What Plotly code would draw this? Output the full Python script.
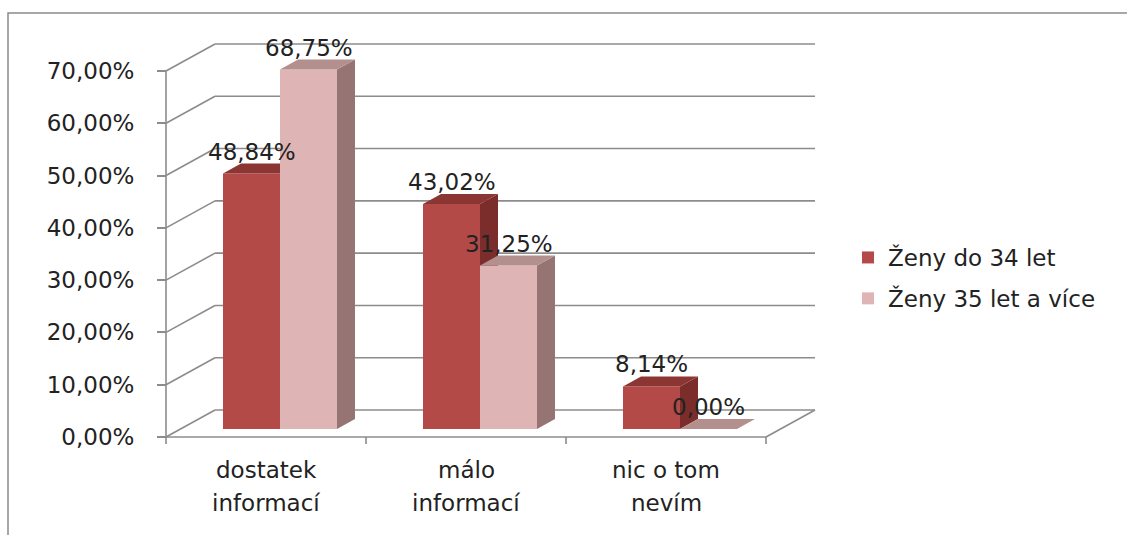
import plotly.graph_objects as go

# ---- data -------------------------------------------------------------
categories = ["dostatek informací", "málo informací", "nic o tom nevím"]
category_lines = [["dostatek", "informací"], ["málo", "informací"], ["nic o tom", "nevím"]]
series_names = ["Ženy do 34 let", "Ženy 35 let a více"]
young_values = [48.84, 43.02, 8.14]
older_values = [68.75, 31.25, 0.00]
tick_values = [0, 10, 20, 30, 40, 50, 60, 70]
tick_labels = ["0,00%", "10,00%", "20,00%", "30,00%", "40,00%", "50,00%", "60,00%", "70,00%"]

# ---- styling / pseudo-3D geometry (axis units) ------------------------
FONT = "DejaVu Sans"
FONT_SIZE = 23
TEXT_COLOR = "#222222"
GRID_COLOR = "#8c8c8c"
front_colors = ["#B34A48", "#DEB5B4"]
top_colors = ["#8C3634", "#B38F8D"]
side_colors = ["#7B2D2B", "#957473"]

X_RANGE = [-1.33, 4.305]
Y_RANGE = [-18.74, 83.57]
WALL_DX, WALL_DY = 0.245, 5.16     # depth of the chart walls
BAR_W = 0.285                      # width of one column
BAR_FX, BAR_FY = 0.07, 1.53        # columns sit a little behind the front plane
BAR_DX, BAR_DY = 0.09, 1.91        # depth of a column
X_LEFT, X_RIGHT = -0.5, len(categories) - 0.5

fig = go.Figure()

series = [young_values, older_values]
yaxes = ["y", "y2"]
for j, values in enumerate(series):
    centers = [i + (j - 0.5) * BAR_W + BAR_FX for i in range(len(categories))]
    fig.add_trace(go.Bar(
        x=centers, y=values, base=BAR_FY, width=BAR_W,
        name=series_names[j], legendgroup=f"s{j}",
        marker=dict(color=front_colors[j], line=dict(width=0)),
        xaxis="x", yaxis=yaxes[j], hoverinfo="skip",
    ))
    for c, v in zip(centers, values):
        left, right = c - BAR_W / 2, c + BAR_W / 2
        top = BAR_FY + v
        # right side face
        fig.add_trace(go.Scatter(
            x=[right, right + BAR_DX, right + BAR_DX, right, right],
            y=[BAR_FY, BAR_FY + BAR_DY, top + BAR_DY, top, BAR_FY],
            fill="toself", fillcolor=side_colors[j], mode="lines",
            line=dict(width=0), showlegend=False, hoverinfo="skip",
            xaxis="x", yaxis=yaxes[j],
        ))
        # top face
        fig.add_trace(go.Scatter(
            x=[left, right, right + BAR_DX, left + BAR_DX, left],
            y=[top, top, top + BAR_DY, top + BAR_DY, top],
            fill="toself", fillcolor=top_colors[j], mode="lines",
            line=dict(width=0), showlegend=False, hoverinfo="skip",
            xaxis="x", yaxis=yaxes[j],
        ))

# ---- walls, floor and axis lines --------------------------------------
shapes = []
line_style = dict(color=GRID_COLOR, width=1.6)
for t in tick_values:
    shapes.append(dict(type="line", xref="x", yref="y", layer="below",
                       x0=X_LEFT, y0=t, x1=X_LEFT + WALL_DX, y1=t + WALL_DY, line=line_style))
    shapes.append(dict(type="line", xref="x", yref="y", layer="below",
                       x0=X_LEFT + WALL_DX, y0=t + WALL_DY, x1=X_RIGHT + WALL_DX, y1=t + WALL_DY,
                       line=line_style))
shapes.append(dict(type="line", xref="x", yref="y", layer="below",
                   x0=X_LEFT, y0=0, x1=X_LEFT, y1=tick_values[-1], line=line_style))
shapes.append(dict(type="line", xref="x", yref="y", layer="below",
                   x0=X_LEFT, y0=0, x1=X_RIGHT, y1=0, line=line_style))
shapes.append(dict(type="line", xref="x", yref="y", layer="below",
                   x0=X_RIGHT, y0=0, x1=X_RIGHT + WALL_DX, y1=WALL_DY, line=line_style))
for k in range(len(categories) + 1):
    xb = X_LEFT + k
    shapes.append(dict(type="line", xref="x", yref="y", layer="below",
                       x0=xb, y0=0, x1=xb, y1=-1.35, line=line_style))
# outer chart frame
shapes.append(dict(type="rect", xref="paper", yref="paper",
                   x0=8 / 1127, y0=-0.05, x1=1.05, y1=1 - 13 / 535,
                   line=dict(color="#8a8a8a", width=1.5)))

# ---- labels -------------------------------------------------------------
annotations = []
for j, values in enumerate(series):
    for i, v in enumerate(values):
        c = i + (j - 0.5) * BAR_W + BAR_FX
        annotations.append(dict(
            x=c, y=BAR_FY + v, xref="x", yref="y", yshift=22,
            text=f"{v:.2f}".replace(".", ",") + "%", showarrow=False,
            xanchor="center", yanchor="middle",
            font=dict(family=FONT, size=FONT_SIZE, color=TEXT_COLOR),
        ))
for i, lines in enumerate(category_lines):
    for k, line in enumerate(lines):
        annotations.append(dict(
            x=i, y=-6.31 - 6.31 * k, xref="x", yref="y",
            text=line, showarrow=False, xanchor="center", yanchor="middle",
            font=dict(family=FONT, size=FONT_SIZE, color=TEXT_COLOR),
        ))

axis_pos = (X_LEFT - X_RANGE[0]) / (X_RANGE[1] - X_RANGE[0])

fig.update_layout(
    width=1127, height=535,
    margin=dict(l=0, r=0, t=0, b=0),
    paper_bgcolor="white", plot_bgcolor="white",
    barmode="overlay",
    showlegend=True,
    xaxis=dict(range=X_RANGE, visible=False, fixedrange=True),
    yaxis=dict(
        range=Y_RANGE, anchor="free", position=axis_pos,
        tickmode="array", tickvals=tick_values, ticktext=tick_labels,
        ticks="outside", ticklen=9, tickwidth=1.6, tickcolor=GRID_COLOR,
        ticklabelstandoff=18,
        showline=False, showgrid=False, zeroline=False,
        tickfont=dict(family=FONT, size=FONT_SIZE, color=TEXT_COLOR),
    ),
    yaxis2=dict(range=Y_RANGE, overlaying="y", visible=False),
    legend=dict(
        x=848 / 1127, y=1 - 236 / 535, xanchor="left", yanchor="top",
        traceorder="grouped", tracegroupgap=8,
        font=dict(family=FONT, size=FONT_SIZE, color=TEXT_COLOR),
        bgcolor="rgba(0,0,0,0)",
    ),
    shapes=shapes,
    annotations=annotations,
)

fig.write_html("out.html")
